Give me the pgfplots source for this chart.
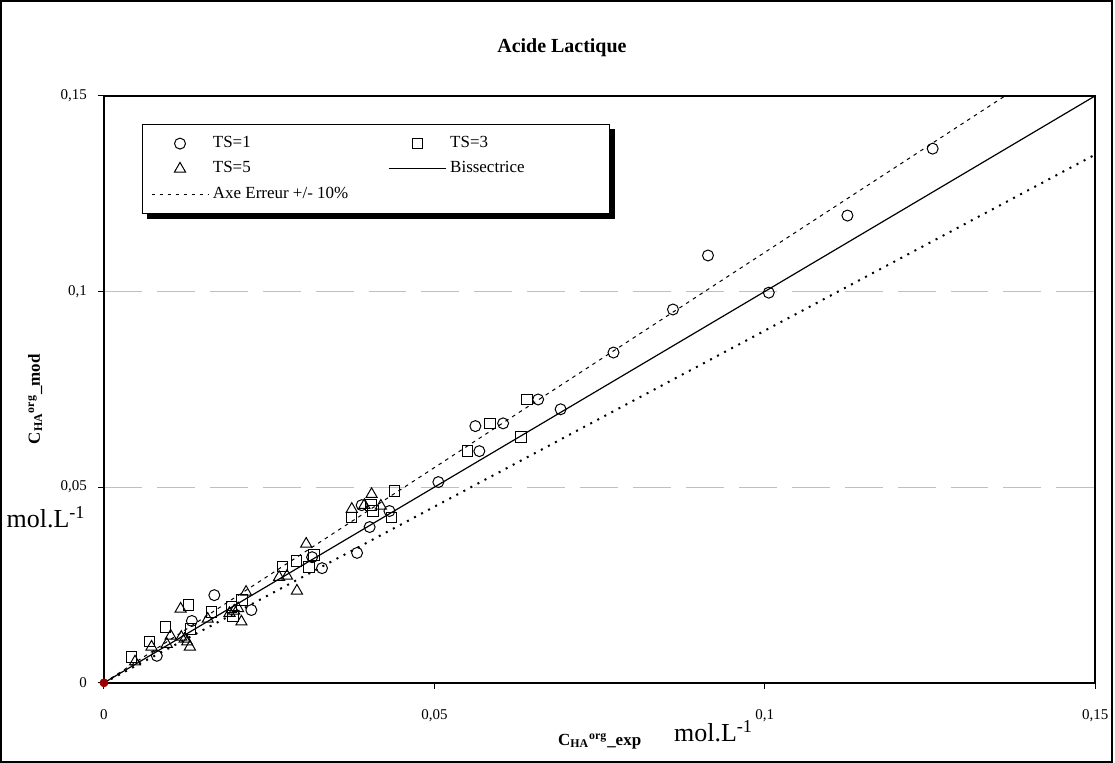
\documentclass[border=0pt]{standalone}
\usepackage{pgfplots}
\pgfplotsset{compat=1.18}
\usepackage{fontspec}
\setmainfont{Liberation Serif}
\usetikzlibrary{backgrounds}
\definecolor{darkred}{RGB}{153,0,0}
\begin{document}
\begin{tikzpicture}
\begin{axis}[
  scale only axis, width=496.5pt, height=294pt,
  xmin=0, xmax=0.15, ymin=0, ymax=0.15,
  clip=false,
  xtick={0,0.05,0.1,0.15}, ytick={0,0.05,0.1,0.15},
  xticklabels={0,{0,05},{0,1},{0,15}},
  yticklabels={0,{0,05},{0,1},{0,15}},
  xtick pos=bottom, ytick pos=left,
  tick align=outside, major tick length=3pt,
  tick style={black, line width=0.5pt},
  /pgf/number format/assume math mode=true,
  tick label style={font=\fontsize{7.5}{9}\selectfont},
  xticklabel style={yshift=-7pt},
  yticklabel style={xshift=-2pt},
  ymajorgrids, grid style={black!25, dash pattern=on 19pt off 7.5pt, line width=0.5pt},
  axis line style={line width=0.8pt},
  legend columns=2,
  legend cell align=left,
  legend style={name=mylegend, at={(0.038,0.952)}, anchor=north west,
    draw=black, line width=0.5pt, fill=white,
    font=\fontsize{8.5}{10}\selectfont,
    inner xsep=4.5pt, inner ysep=4pt, row sep=1.5pt,
    /tikz/column 2/.style={column sep=18pt}},
  legend image code/.code={\draw[mark repeat=2,mark phase=2,#1] plot coordinates {(0cm,0cm) (0.5cm,0cm) (1cm,0cm)};},
]
% TS=1
\addplot[only marks, mark=o, mark size=2.75pt, black, line width=0.5pt] coordinates {
(0.0080,0.0069) (0.0133,0.0158) (0.0167,0.0224) (0.0223,0.0186)
(0.0315,0.0321) (0.0330,0.0293) (0.0383,0.0332) (0.0390,0.0454)
(0.0402,0.0398) (0.0432,0.0439) (0.0506,0.0513) (0.0562,0.0656)
(0.0568,0.0592) (0.0604,0.0663) (0.0657,0.0724) (0.0691,0.0699)
(0.0771,0.0844) (0.0861,0.0954) (0.0914,0.1092) (0.1006,0.0997)
(0.1125,0.1194) (0.1254,0.1365)
};
\addlegendentry{TS=1}
% TS=3
\addplot[only marks, mark=square, mark size=2.6pt, black, line width=0.5pt] coordinates {
(0.0042,0.0066) (0.0069,0.0105) (0.0093,0.0143) (0.0128,0.0199)
(0.0131,0.0138) (0.0163,0.0181) (0.0193,0.0194) (0.0195,0.0171)
(0.0209,0.0212) (0.0270,0.0298) (0.0291,0.0311) (0.0310,0.0296)
(0.0318,0.0327) (0.0375,0.0423) (0.0404,0.0454) (0.0407,0.0439)
(0.0435,0.0423) (0.0440,0.0490) (0.0550,0.0592) (0.0584,0.0663)
(0.0631,0.0628) (0.0640,0.0724)
};
\addlegendentry{TS=3}
% TS=5
\addplot[only marks, mark=triangle, mark size=3.2pt, black, line width=0.5pt] coordinates {
(0.0047,0.0054) (0.0072,0.0092) (0.0095,0.0099) (0.0101,0.0120)
(0.0116,0.0189) (0.0117,0.0117) (0.0122,0.0112) (0.0126,0.0105)
(0.0130,0.0092) (0.0157,0.0163) (0.0190,0.0178) (0.0197,0.0184)
(0.0203,0.0190) (0.0208,0.0156) (0.0215,0.0232) (0.0265,0.0270)
(0.0277,0.0273) (0.0292,0.0235) (0.0306,0.0355) (0.0375,0.0444)
(0.0394,0.0454) (0.0405,0.0482) (0.0419,0.0452)
};
\addlegendentry{TS=5}
% Bissectrice
\addplot[black, line width=0.6pt] coordinates {(0,0) (0.15,0.15)};
\addlegendentry{Bissectrice\hspace*{36pt}}
% +10%
\addplot[black, line width=0.5pt, dash pattern=on 1.8pt off 2.2pt] coordinates {(0,0) (0.13636,0.15)};
\addlegendentry{Axe Erreur +/- 10\%}
% -10%
\addplot[black, line width=1pt, dash pattern=on 1pt off 3pt, forget plot] coordinates {(0,0) (0.15,0.135)};
% origin
\addplot[only marks, mark=*, mark size=2pt, darkred, forget plot] coordinates {(0,0)};
% texts
\node[font=\bfseries\fontsize{10}{12}\selectfont] at (rel axis cs:0.462,1.082) {Acide Lactique};
\node[font=\bfseries\fontsize{8.5}{10}\selectfont] at (rel axis cs:0.5,-0.1) {C\textsubscript{HA}\textsuperscript{org}\_exp};
\node[rotate=90, font=\bfseries\fontsize{8.5}{10}\selectfont] at (rel axis cs:-0.0695,0.483) {C\textsubscript{HA}\textsuperscript{org}\_mod};
\node[font=\fontsize{13}{15}\selectfont] at (rel axis cs:0.615,-0.083) {mol.L\textsuperscript{-1}};
\node[font=\fontsize{13}{15}\selectfont] at (rel axis cs:-0.0584,0.282) {mol.L\textsuperscript{-1}};
\draw[black, line width=1pt] (rel axis cs:-0.10373,-0.13435) rectangle (rel axis cs:1.01712,1.16156);
\end{axis}
\begin{scope}[on background layer]
\fill[black] ([shift={(0pt,-2.5pt)}]mylegend.south west) ++(2.5pt,0) rectangle ([shift={(2.5pt,-2.5pt)}]mylegend.north east);
\end{scope}
\end{tikzpicture}
\end{document}
